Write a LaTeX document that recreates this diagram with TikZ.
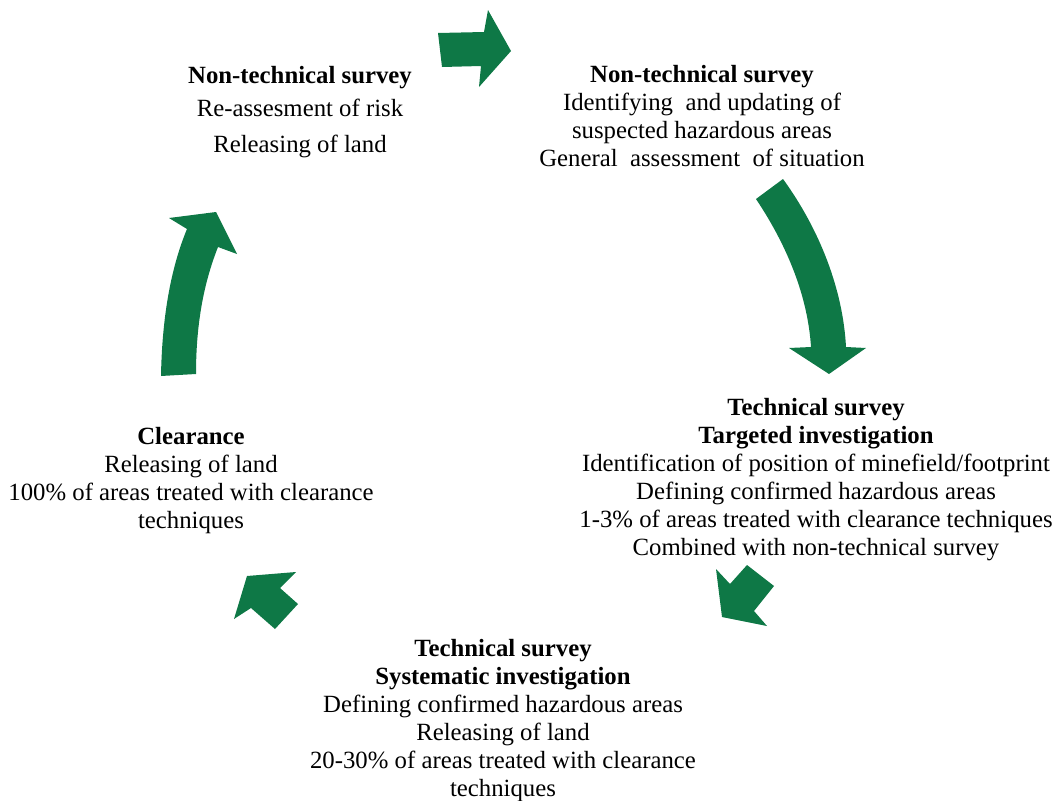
\documentclass[tikz,border=0pt]{standalone}
\usepackage{fontspec}
\setmainfont{Liberation Serif}
\definecolor{arrowgreen}{RGB}{14,120,70}

\begin{document}
\begin{tikzpicture}[x=0.02cm,y=-0.02cm,
    blockarrow/.style={fill=arrowgreen,draw=none},
    stage/.style={align=center,anchor=north,inner sep=0pt,
      font=\fontsize{14.1}{15.9}\selectfont}]

      \useasboundingbox (0,0) rectangle (1055,801);

      % stages of the cycle
      \node[stage] (nts1) at (300,66){\textbf{Non-technical survey}\\[3pt]
        Re-assesment of risk\\[4.5pt]
        Releasing of land};
      \node[stage] (nts2) at (702,65){\textbf{Non-technical survey}\\
        Identifying\ \ and updating of\\
        suspected hazardous areas\\
        General\ \ assessment\ \ of situation};
      \node[stage] (tst) at (816,398){\textbf{Technical survey}\\
        \textbf{Targeted investigation}\\
        Identification of position of minefield/footprint\\
        Defining confirmed hazardous areas\\
        1-3\% of areas treated with clearance techniques\\
        Combined with non-technical survey};
      \node[stage] (tss) at (503,639){\textbf{Technical survey}\\
        \textbf{Systematic investigation}\\
        Defining confirmed hazardous areas\\
        Releasing of land\\
        20-30\% of areas treated with clearance\\
        techniques};
      \node[stage] (clr) at (191,427){\textbf{Clearance}\\
        Releasing of land\\
        100\% of areas treated with clearance\\
        techniques};

      % arrows between stages
      \fill[blockarrow] (438,33) -- (484,32) -- (488,10) -- (511,51)
        -- (479,87) -- (481,66) -- (442,67) -- cycle;
      \fill[blockarrow] (756,199) .. controls (790,250) and (808,300) .. (811,347)
        -- (789,348) -- (829,374) -- (866,348) -- (846,347)
        .. controls (843,290) and (820,230) .. (783,179) -- cycle;
      \fill[blockarrow] (716,569) -- (730,584) -- (747,565) -- (774,586)
        -- (754,611) -- (767,626) -- (722,617) -- cycle;
      \fill[blockarrow] (234,619) -- (247,576) -- (296,572) -- (280,588)
        -- (298,604) -- (275,629) -- (251,608) -- cycle;
      \fill[blockarrow] (161,376) .. controls (162,320) and (170,270) .. (187,229)
        -- (169,218) -- (216,212) -- (237,254) -- (218,247)
        .. controls (205,280) and (196,320) .. (196,374) -- cycle;

    \end{tikzpicture}
\end{document}
